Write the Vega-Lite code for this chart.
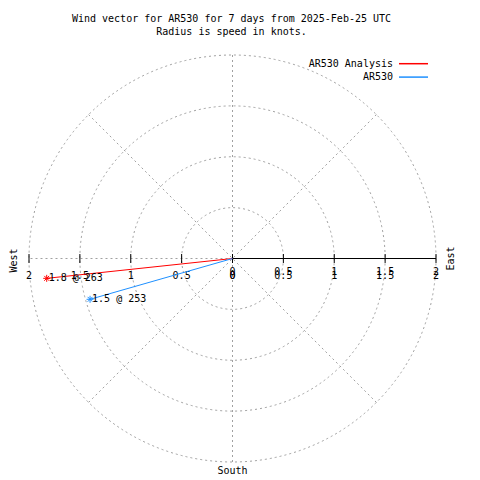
{
  "$schema": "https://vega.github.io/schema/vega-lite/v6.json",
  "width": 407,
  "height": 407,
  "autosize": {"type": "none"},
  "padding": {"left": 29, "top": 55, "right": 44, "bottom": 18},
  "background": "white",
  "title": {
    "text": ["Wind vector for AR530 for 7 days from 2025-Feb-25 UTC", "Radius is speed in knots."],
    "anchor": "middle",
    "frame": "group",
    "offset": 16,
    "dx": -1,
    "font": "DejaVu Sans Mono",
    "fontSize": 10,
    "fontWeight": "normal",
    "lineHeight": 13,
    "color": "black"
  },
  "datasets": {
    "rings": [{"r": 0.5}, {"r": 1}, {"r": 1.5}, {"r": 2}],
    "spokes": [
      {"x": 0, "y": 0, "x2": -2, "y2": 0},
      {"x": 0, "y": 2, "x2": 0, "y2": -2},
      {"x": -1.4142, "y": 1.4142, "x2": 1.4142, "y2": -1.4142},
      {"x": 1.4142, "y": 1.4142, "x2": -1.4142, "y2": -1.4142}
    ],
    "axisline": [{"x": 0, "y": 0, "x2": 2, "y2": 0}],
    "ticks": [{"x": -2}, {"x": -1.5}, {"x": -1}, {"x": -0.5}, {"x": 0}, {"x": 0.5}, {"x": 1}, {"x": 1.5}, {"x": 2}],
    "leftlabels": [{"x": -2, "label": "2"}, {"x": -1.5, "label": "1.5"}, {"x": -1, "label": "1"}, {"x": -0.5, "label": "0.5"}, {"x": 0, "label": "0"}],
    "rightlabels": [{"x": 0, "label": "0"}, {"x": 0.5, "label": "0.5"}, {"x": 1, "label": "1"}, {"x": 1.5, "label": "1.5"}, {"x": 2, "label": "2"}],
    "vectors": [
      {"series": "AR530 Analysis", "u": -1.826, "v": -0.195, "label": "1.8 @ 263"},
      {"series": "AR530", "u": -1.4, "v": -0.401, "label": "1.5 @ 253"}
    ]
  },
  "config": {
    "view": {"stroke": null},
    "axis": {"disable": true},
    "font": "DejaVu Sans Mono",
    "text": {"font": "DejaVu Sans Mono", "fontSize": 10, "color": "black"}
  },
  "layer": [
    {
      "data": {"name": "rings"},
      "mark": {"type": "point", "shape": "circle", "filled": false, "stroke": "#a0a0a0", "strokeWidth": 1, "strokeDash": [2, 3], "opacity": 1},
      "encoding": {
        "x": {"datum": 0, "type": "quantitative", "scale": {"domain": [-2, 2], "nice": false, "zero": false}, "axis": null},
        "y": {"datum": 0, "type": "quantitative", "scale": {"domain": [-2, 2], "nice": false, "zero": false}, "axis": null},
        "size": {"field": "r", "type": "quantitative", "scale": {"type": "pow", "exponent": 2, "domain": [0, 2], "range": [0, 165649]}, "legend": null}
      }
    },
    {
      "data": {"name": "spokes"},
      "mark": {"type": "rule", "stroke": "#a0a0a0", "strokeWidth": 1, "strokeDash": [2, 3]},
      "encoding": {
        "x": {"field": "x", "type": "quantitative"},
        "y": {"field": "y", "type": "quantitative"},
        "x2": {"field": "x2"},
        "y2": {"field": "y2"}
      }
    },
    {
      "data": {"name": "axisline"},
      "mark": {"type": "rule", "stroke": "black", "strokeWidth": 1},
      "encoding": {
        "x": {"field": "x", "type": "quantitative"},
        "y": {"field": "y", "type": "quantitative"},
        "x2": {"field": "x2"},
        "y2": {"field": "y2"}
      }
    },
    {
      "data": {"name": "ticks"},
      "mark": {"type": "tick", "orient": "vertical", "size": 9, "thickness": 1, "color": "black", "opacity": 1},
      "encoding": {
        "x": {"field": "x", "type": "quantitative"},
        "y": {"datum": 0, "type": "quantitative"}
      }
    },
    {
      "data": {"name": "leftlabels"},
      "mark": {"type": "text", "align": "center", "baseline": "middle", "dy": 17},
      "encoding": {
        "x": {"field": "x", "type": "quantitative"},
        "y": {"datum": 0, "type": "quantitative"},
        "text": {"field": "label"}
      }
    },
    {
      "data": {"name": "rightlabels"},
      "mark": {"type": "text", "align": "center", "baseline": "middle", "dy": 17},
      "encoding": {
        "x": {"field": "x", "type": "quantitative"},
        "y": {"datum": 0, "type": "quantitative"},
        "text": {"field": "label"}
      }
    },
    {
      "data": {"name": "rightlabels"},
      "mark": {"type": "text", "align": "center", "baseline": "middle", "dy": 13},
      "encoding": {
        "x": {"field": "x", "type": "quantitative"},
        "y": {"datum": 0, "type": "quantitative"},
        "text": {"field": "label"}
      }
    },
    {
      "data": {"name": "vectors"},
      "mark": {"type": "rule", "strokeWidth": 1},
      "encoding": {
        "x": {"field": "u", "type": "quantitative"},
        "y": {"field": "v", "type": "quantitative"},
        "x2": {"datum": 0},
        "y2": {"datum": 0},
        "color": {
          "field": "series",
          "type": "nominal",
          "scale": {"domain": ["AR530 Analysis", "AR530"], "range": ["#ff0000", "#1e90ff"]},
          "legend": {
            "orient": "none",
            "legendX": 378.5,
            "legendY": 2.7,
            "title": null,
            "padding": 0,
            "symbolType": "M-2.9,0L2.9,0",
            "symbolSize": 100,
            "symbolStrokeWidth": 1.5,
            "labelAlign": "right",
            "labelBaseline": "middle",
            "labelOffset": -26.5,
            "labelFont": "DejaVu Sans Mono",
            "labelFontSize": 10,
            "labelColor": "black",
            "labelLimit": 0,
            "rowPadding": 2.4
          }
        }
      }
    },
    {
      "data": {"name": "vectors"},
      "mark": {"type": "point", "shape": "M-1,0L1,0M0,-1L0,1M-0.7,-0.7L0.7,0.7M-0.7,0.7L0.7,-0.7", "filled": false, "size": 49, "strokeWidth": 1, "opacity": 1},
      "encoding": {
        "x": {"field": "u", "type": "quantitative"},
        "y": {"field": "v", "type": "quantitative"},
        "color": {"field": "series", "type": "nominal", "legend": null}
      }
    },
    {
      "data": {"name": "vectors"},
      "mark": {"type": "text", "align": "left", "baseline": "middle", "dx": 2},
      "encoding": {
        "x": {"field": "u", "type": "quantitative"},
        "y": {"field": "v", "type": "quantitative"},
        "text": {"field": "label"}
      }
    },
    {
      "data": {"values": [{"name": "West"}]},
      "mark": {"type": "text", "angle": 270, "align": "center", "baseline": "middle", "dx": -2, "dy": -15.5},
      "encoding": {
        "x": {"datum": -2, "type": "quantitative"},
        "y": {"datum": 0, "type": "quantitative"},
        "text": {"field": "name"}
      }
    },
    {
      "data": {"values": [{"name": "East"}]},
      "mark": {"type": "text", "angle": 270, "align": "center", "baseline": "middle", "dx": 0, "dy": 15},
      "encoding": {
        "x": {"datum": 2, "type": "quantitative"},
        "y": {"datum": 0, "type": "quantitative"},
        "text": {"field": "name"}
      }
    },
    {
      "data": {"values": [{"name": "South"}]},
      "mark": {"type": "text", "align": "center", "baseline": "middle", "dy": 9},
      "encoding": {
        "x": {"datum": 0, "type": "quantitative"},
        "y": {"datum": -2, "type": "quantitative"},
        "text": {"field": "name"}
      }
    }
  ]
}
